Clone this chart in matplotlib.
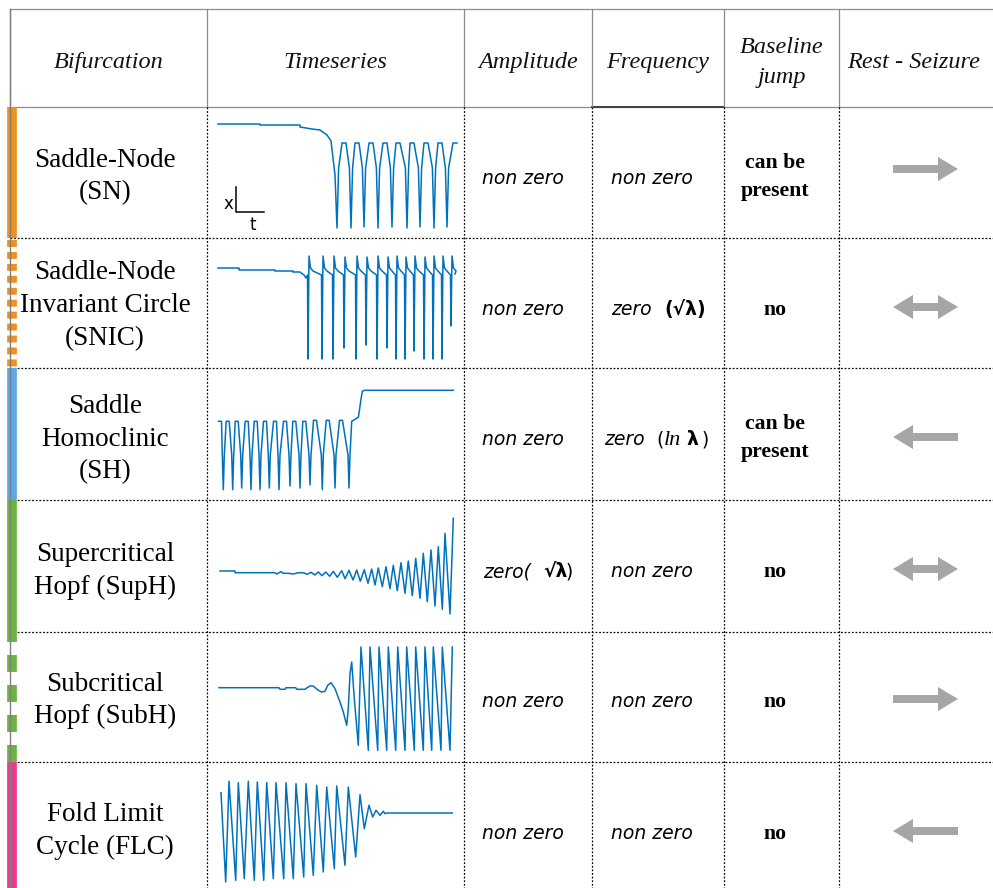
#!/usr/bin/env python3
"""Bifurcation table: six onset/offset types with sketch timeseries."""

import matplotlib
matplotlib.use('Agg')
import matplotlib.pyplot as plt
from matplotlib.patches import Polygon

plt.rcParams['lines.scale_dashes'] = False

# ---- table content ----
headers = ['Bifurcation', 'Timeseries', 'Amplitude', 'Frequency', 'Baseline\njump', 'Rest - Seizure']
labels = [
    ['Saddle-Node', '(SN)'],
    ['Saddle-Node', 'Invariant Circle', '(SNIC)'],
    ['Saddle', 'Homoclinic', '(SH)'],
    ['Supercritical', 'Hopf (SupH)'],
    ['Subcritical', 'Hopf (SubH)'],
    ['Fold Limit', 'Cycle (FLC)'],
]
amplitude = ['non zero', 'non zero', 'non zero', None, 'non zero', 'non zero']
frequency = ['non zero', None, None, 'non zero', 'non zero', 'non zero']
baseline = ['can be\npresent', 'no', 'can be\npresent', 'no', 'no', 'no']
direction = ['right', 'both', 'left', 'both', 'right', 'left']
bar_colors = ['#F0901E', '#F0901E', '#5BA8EC', '#6DB33F', '#6DB33F', '#EE3A8C']
bar_dashed = [False, True, False, False, True, False]

# SN: slow drift then sustained oscillation
sn_onset_t = [11, 53, 53, 93, 93, 105, 113, 120, 124, 126, 128]
sn_onset_x = [114, 114, 113, 113, 111, 109, 108, 103, 97, 80, 63]
sn_trough_t = [130, 144, 157, 171, 185, 200, 213, 227, 240]
sn_trough_x = [10, 10, 11, 10, 11, 10, 11, 10, 11]
sn_peak_t = [137, 150, 164, 178, 191, 205, 219, 233, 248]
sn_peak_x = [95, 95, 95, 95, 95, 95, 95, 95, 95]

# SNIC: baseline then downward spikes
snic_onset_t = [11, 32, 32, 68, 68, 86, 86, 93, 97, 99]
snic_onset_x = [100, 100, 98, 98, 97, 97, 96, 96, 93, 90]
snic_spike_t = [101, 115, 126, 137, 149, 159, 170, 180, 189, 198, 207, 217, 226, 235, 244]
snic_trough_x = [9, 9, 9, 20, 9, 23, 9, 20, 9, 9, 17, 9, 9, 9, 42]
snic_peak_x = [112, 112, 112, 111, 112, 111, 112, 111, 112, 111, 112, 111, 112, 112, 112]

# SH: oscillation ending in a jump to a higher baseline
sh_peak_t = [13, 20.7, 29.7, 39.7, 48.7, 58, 68, 78, 87.3, 97.3, 108, 120.7, 134]
sh_peak_x = [78.7, 78.7, 78.7, 78.7, 78.7, 78.7, 78.7, 78.7, 78.7, 78.7, 79.7, 79.7, 79.7]
sh_trough_t = [16.3, 25.7, 34.7, 44, 53, 62.3, 72, 83, 93, 103, 115.3, 128, 142]
sh_trough_x = [10.3, 10.3, 12, 10.3, 10.3, 12, 10.3, 14, 12, 15, 10.3, 12, 12]
sh_tail_t = [144.7, 151.3, 152.3, 153.7, 155.3, 157.3, 246.3]
sh_tail_x = [78.7, 82.7, 88.7, 98.7, 108.7, 109.7, 109.7]

# SupH: growing oscillation
suph_onset_t = [13, 28, 28, 68, 69.7, 74, 76.3, 81.3, 86.3, 91.3]
suph_onset_x = [61, 61, 59.3, 59.3, 58, 60.3, 58.7, 58.7, 58, 59.3]
suph_peak_t = [96.3, 104, 111.3, 118.7, 126.3, 134.7, 142, 149.7, 157.3, 164.7,
               171.3, 179, 186.3, 194, 201.3, 208.7, 216.3, 224, 231.3, 238, 246.3]
suph_peak_x = [59.3, 59.7, 60, 60, 60.7, 61.3, 61.7, 62, 62.3, 63,
               64, 65.3, 66.7, 69.3, 71, 73.7, 78.7, 82, 85.3, 98.7, 113.7]
suph_trough_t = [100.3, 107.7, 115, 122.7, 130.3, 138, 146, 153.3, 161, 168,
                 175.3, 183, 190.3, 198, 205.3, 213, 220.3, 228, 235.3, 243]
suph_trough_x = [57.7, 57, 56.3, 55.7, 54.7, 53.3, 52, 50.7, 48.7, 47,
                 45.3, 43.3, 41.3, 38.7, 36.3, 33.7, 30.3, 26, 22.7, 18]

# SubH: small wiggles then jump into large oscillation
subh_onset_t = [12, 72, 73, 78, 79, 88.7, 89.7, 98, 99.7, 103, 106.3, 111.3, 114.7, 118,
                120.7, 124, 128, 133, 136.3, 139.7, 141.3, 143, 144.7, 147.3, 151.3]
subh_onset_x = [74.3, 74.3, 72.7, 72.7, 74.3, 74.3, 72.7, 72.7, 74, 76, 76, 71.7, 70, 70.7,
                76.7, 79.3, 73.3, 60, 50, 36.7, 53.3, 88.3, 100, 63.3, 16.7]
subh_peak_t = [154, 163, 172, 181.3, 190.7, 199.7, 208.7, 218, 226.3, 235.3, 245.3]
subh_peak_x = [115, 115, 115, 115, 115, 115, 115, 115, 115, 115, 115]
subh_trough_t = [161.3, 170.7, 179.7, 188.7, 198, 207.3, 216.3, 224.7, 234, 243]
subh_trough_x = [11.7, 11.7, 11.7, 11.7, 11.7, 11.7, 11.7, 11.7, 11.7, 11.7]

# FLC: oscillation that dies out to a flat baseline
flc_t = [14, 18.7, 22, 28.7, 31.3, 37.3, 41.3, 47.3, 50.3, 56.7, 59.7, 66.3, 69, 76.7,
         79, 86.3, 89, 96.7, 99, 106.3, 109.7, 116.3, 119.7, 127.3, 129.7, 138, 141.3,
         148.7, 153, 157.3, 162, 165.7, 169, 173, 176.3, 178, 179.7, 245.3]
flc_x = [95.3, 6, 106.7, 7.7, 105.3, 9.3, 106.7, 7.7, 106, 7.7, 105.3, 9.3, 105.3, 9.3,
         105.3, 9.3, 104.3, 11, 104.3, 12.7, 102.7, 16, 101, 19.3, 102, 22.7, 101,
         31, 93.3, 59.3, 82.7, 71, 77.7, 72.7, 76.7, 74.3, 75, 75]

# ---- layout (figure pixels) ----
W, H = 993, 888
col_x = [10, 207, 464, 592, 724, 839, 993]
row_y = [9, 107, 238, 368, 500, 632, 762, 888]
label_lines_y = [[158, 190], [270, 303, 336], [404, 437, 469], [552, 585], [682, 714], [812, 845]]
DY = 2.5  # va='center' sits a little high for these fonts

SERIF = 'Liberation Serif'
SANS = 'DejaVu Sans'
BLUE = '#0072BD'
GRAY_ARROW = '#A6A6A6'


def zigzag(t_lo, x_lo, t_hi, x_hi, top=0.0, side=0.0, side_x=None):
    """Interleave troughs and peaks; optional flat tops and steep flanks."""
    pts = []
    for t, x in zip(t_lo, x_lo):
        pts.append((t, x))
        if side:
            pts += [(t - side, side_x), (t + side, side_x)]
    for t, x in zip(t_hi, x_hi):
        if top:
            pts += [(t - top / 2, x), (t + top / 2, x)]
        else:
            pts.append((t, x))
    pts.sort()
    return [p[0] for p in pts], [p[1] for p in pts]


def build_series():
    out = []
    # SN
    t, x = zigzag(sn_trough_t[1:], sn_trough_x[1:], sn_peak_t, sn_peak_x,
                  top=4, side=1.6, side_x=70)
    out.append((sn_onset_t + [sn_trough_t[0], sn_trough_t[0] + 1.6] + t,
                sn_onset_x + [sn_trough_x[0], 70] + x))
    # SNIC
    t, x = list(snic_onset_t), list(snic_onset_x)
    for ts, lo, hi in zip(snic_spike_t, snic_trough_x, snic_peak_x):
        t += [ts - 0.5, ts, ts + 1, ts + 2.5, ts + 5]
        x += [93, lo, hi, 100, 97]
    t.append(248)
    x.append(94)
    out.append((t, x))
    # SH
    t, x = zigzag(sh_trough_t, sh_trough_x, sh_peak_t, sh_peak_x,
                  top=3, side=1.0, side_x=45)
    out.append((t + sh_tail_t, x + sh_tail_x))
    # SupH
    t, x = zigzag(suph_trough_t, suph_trough_x, suph_peak_t, suph_peak_x)
    out.append((suph_onset_t + t, suph_onset_x + x))
    # SubH
    t, x = zigzag(subh_trough_t, subh_trough_x, subh_peak_t, subh_peak_x)
    out.append((subh_onset_t + t, subh_onset_x + x))
    # FLC
    out.append((flc_t, flc_x))
    return out


def arrow_poly(kind, cy, x0=893, x1=958, head=20, hh=12, sh=4):
    if kind == 'right':
        pts = [(x0, cy - sh), (x1 - head, cy - sh), (x1 - head, cy - hh), (x1, cy),
               (x1 - head, cy + hh), (x1 - head, cy + sh), (x0, cy + sh)]
    elif kind == 'left':
        pts = [(x1, cy - sh), (x0 + head, cy - sh), (x0 + head, cy - hh), (x0, cy),
               (x0 + head, cy + hh), (x0 + head, cy + sh), (x1, cy + sh)]
    else:
        pts = [(x0, cy), (x0 + head, cy - hh), (x0 + head, cy - sh), (x1 - head, cy - sh),
               (x1 - head, cy - hh), (x1, cy), (x1 - head, cy + hh), (x1 - head, cy + sh),
               (x0 + head, cy + sh), (x0 + head, cy + hh)]
    return Polygon(pts, closed=True, facecolor=GRAY_ARROW, edgecolor='none')


fig = plt.figure(figsize=(W / 100, H / 100), dpi=100)
ax = fig.add_axes([0, 0, 1, 1])
ax.set_xlim(0, W)
ax.set_ylim(H, 0)
ax.axis('off')

# header grid (solid gray)
hc = '#8C8C8C'
ax.plot([col_x[0], W], [row_y[0], row_y[0]], color=hc, lw=0.9)
ax.plot([col_x[0], W], [row_y[1], row_y[1]], color=hc, lw=0.9)
ax.plot([592, 724], [row_y[1], row_y[1]], color='#404040', lw=1.4)
for cx in col_x[:-1]:
    ax.plot([cx, cx], [row_y[0], row_y[1]], color=hc, lw=0.9)

# body grid (dotted black)
dots = dict(color='black', lw=0.9, dashes=(1.3, 1.3))
for ry in row_y[2:-1]:
    ax.plot([col_x[0], W], [ry, ry], **dots)
for cx in col_x[1:-1]:
    ax.plot([cx, cx], [row_y[1], H], **dots)

# colour bars on the left edge
for i, (c, dashed) in enumerate(zip(bar_colors, bar_dashed)):
    y0, y1 = row_y[i + 1], row_y[i + 2]
    if dashed:
        pattern = (5.0, 3.6) if i == 1 else (12.2, 9.4)
        start = y0 + 2 if i == 1 else y0 + 23
        ax.plot([12, 12], [start, y1], color=c, lw=7, solid_capstyle='butt',
                dash_capstyle='butt', dashes=pattern)
    else:
        end = y1 + 10 if i == 3 else y1
        ax.plot([12, 12], [y0, end], color=c, lw=7, solid_capstyle='butt')
ax.plot([10, 10], [row_y[0], H], color='#7F7F7F', lw=1.0)

# header text
hx = [(a + b) / 2 for a, b in zip(col_x[:-1], col_x[1:])]
hx[5] = 914
for x, h in zip(hx, headers):
    ax.text(x, 60 + DY, h, family=SERIF, style='italic', fontsize=17.5, ha='center',
            va='center', linespacing=1.55, color='#111111')

# row labels
for lines, ys in zip(labels, label_lines_y):
    for s, y in zip(lines, ys):
        ax.text(105, y + DY, s, family=SERIF, fontsize=19.5, ha='center', va='center')

# amplitude / frequency / baseline columns
row_cy = [176, 307, 437, 569, 699, 831]
ital = dict(family=SANS, style='italic', fontsize=13.5, va='center')
boldg = dict(family=SANS, weight='bold', fontsize=13.5, va='center')
for i, cy in enumerate(row_cy):
    if amplitude[i]:
        ax.text(523, cy + DY, amplitude[i], ha='center', **ital)
    if frequency[i]:
        ax.text(652, cy + DY, frequency[i], ha='center', **ital)
    by = cy - 1.5 if baseline[i] != 'no' else cy
    ax.text(775, by + DY, baseline[i], family=SERIF,
            weight='bold', fontsize=15.7, ha='center', va='center', linespacing=1.55)
    ax.add_patch(arrow_poly(direction[i], cy if i else 169))

# special formula cells
ax.text(611, 307 + DY, 'zero', ha='left', **ital)
ax.text(664, 307 + DY, '(\u221a\u03bb)', ha='left', **boldg)
ax.text(604, 437 + DY, 'zero', ha='left', **ital)
ax.text(656, 437 + DY, '(', ha='left', family=SANS, fontsize=13.5, va='center')
ax.text(664, 438 + DY, 'ln', ha='left', family=SERIF, style='italic', fontsize=16, va='center')
ax.text(686, 437 + DY, '\u03bb', ha='left', **boldg)
ax.text(702, 437 + DY, ')', ha='left', family=SANS, fontsize=13.5, va='center')
ax.text(483, 569 + DY, 'zero(', ha='left', **ital)
ax.text(543, 569 + DY, '\u221a\u03bb', ha='left', **boldg)
ax.text(566, 569 + DY, ')', ha='left', family=SANS, fontsize=13.5, va='center')

# timeseries sketches, one inset axes per row
for i, (t, x) in enumerate(build_series()):
    top, bot = row_y[i + 1], row_y[i + 2]
    h = bot - top
    sub = fig.add_axes([col_x[1] / W, 1 - bot / H, (col_x[2] - col_x[1]) / W, h / H])
    sub.plot(t, x, color=BLUE, lw=1.1)
    sub.set_xlim(0, col_x[2] - col_x[1])
    sub.set_ylim(0, h)
    sub.axis('off')

# x/t scale bar in the first sketch
ax.plot([236, 236, 264], [187, 212, 212], color='black', lw=1.1)
ax.text(228, 201 + DY, 'x', family=SANS, fontsize=12, ha='center', va='center')
ax.text(253, 222 + DY, 't', family=SANS, fontsize=12, ha='center', va='center')

fig.savefig('out.png', dpi=100, facecolor='white')
plt.close(fig)
